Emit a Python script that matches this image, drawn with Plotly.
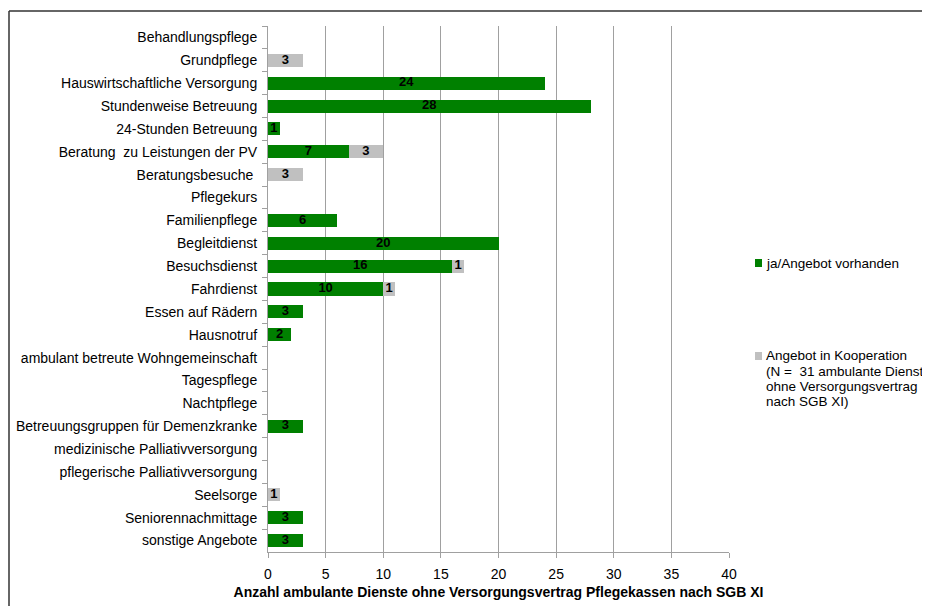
import plotly.graph_objects as go

# -----------------------------------------------------------------------------
# Data
# -----------------------------------------------------------------------------

categories = [
    "Behandlungspflege", "Grundpflege", "Hauswirtschaftliche Versorgung",
    "Stundenweise Betreuung", "24-Stunden Betreuung",
    "Beratung  zu Leistungen der PV", "Beratungsbesuche ", "Pflegekurs",
    "Familienpflege", "Begleitdienst", "Besuchsdienst", "Fahrdienst",
    "Essen auf Rädern", "Hausnotruf", "ambulant betreute Wohngemeinschaft",
    "Tagespflege", "Nachtpflege", "Betreuungsgruppen für Demenzkranke",
    "medizinische Palliativversorgung", "pflegerische Palliativversorgung",
    "Seelsorge", "Seniorennachmittage", "sonstige Angebote",
]
vorhanden = [0, 0, 24, 28, 1, 7, 0, 0, 6, 20, 16, 10, 3, 2, 0, 0, 0, 3, 0, 0, 0, 3, 3]
kooperation = [0, 3, 0, 0, 0, 3, 3, 0, 0, 0, 1, 1, 0, 0, 0, 0, 0, 0, 0, 0, 1, 0, 0]

x_ticks = [0, 5, 10, 15, 20, 25, 30, 35, 40]

name_vorhanden = "ja/Angebot vorhanden"
name_kooperation_lines = ["Angebot in Kooperation", "(N =  31 ambulante Dienst",
                          "ohne Versorgungsvertrag", "nach SGB XI)"]
x_title = "Anzahl ambulante Dienste ohne Versorgungsvertrag Pflegekassen nach SGB XI"

# -----------------------------------------------------------------------------
# Layout helpers (pixel -> paper); the page body adds an 8px margin
# -----------------------------------------------------------------------------

OFF = 8
W, H = 930 - OFF, 606 - OFF
L, R, T, B = 268 - OFF, 729 - OFF, 26 - OFF, 552 - OFF


def px_x(p):
    return (p - OFF - L) / (R - L)


def px_y(p):
    return (B - (p - OFF)) / (B - T)


FONT = "Liberation Sans, Arial, sans-serif"
GREEN = "#008000"
GRAY = "#c0c0c0"

fig = go.Figure()

fig.add_trace(go.Bar(
    y=categories, x=vorhanden, orientation="h", name=name_vorhanden,
    marker=dict(color=GREEN, line=dict(width=0)), showlegend=False,
    hoverinfo="x+y",
))
fig.add_trace(go.Bar(
    y=categories, x=kooperation, orientation="h",
    name=" ".join(name_kooperation_lines),
    marker=dict(color=GRAY, line=dict(width=0)), showlegend=False,
    hoverinfo="x+y",
))

# value labels in the middle of each segment
lab_x, lab_y, lab_t = [], [], []
for c, g, k in zip(categories, vorhanden, kooperation):
    if g:
        lab_x.append(g / 2)
        lab_y.append(c)
        lab_t.append(str(g))
    if k:
        lab_x.append(g + k / 2)
        lab_y.append(c)
        lab_t.append(str(k))

fig.add_trace(go.Scatter(
    x=lab_x, y=lab_y, text=lab_t, mode="text", showlegend=False,
    textfont=dict(family=FONT, size=13, color="black", weight="bold"),
    hoverinfo="skip",
))

# outer frame (only top and left edges visible in the picture)
frame = dict(color="#333333", width=1.5)
fig.add_shape(type="line", xref="paper", yref="paper",
              x0=px_x(9), x1=px_x(940), y0=px_y(11), y1=px_y(11), line=frame)
fig.add_shape(type="line", xref="paper", yref="paper",
              x0=px_x(9), x1=px_x(9), y0=px_y(11), y1=px_y(620), line=frame)

# legend drawn by hand: small squares and text to the right of the plot
legend_font = dict(family=FONT, size=13.5, color="black")
for color, ys, lines in [(GREEN, 263, [name_vorhanden]),
                         (GRAY, 356, name_kooperation_lines)]:
    fig.add_shape(type="rect", xref="paper", yref="paper",
                  x0=px_x(755), x1=px_x(762), y0=px_y(ys - 4), y1=px_y(ys + 4),
                  fillcolor=color, line=dict(width=0))
    for i, line in enumerate(lines):
        fig.add_annotation(xref="paper", yref="paper", x=px_x(764),
                           y=px_y(ys + 15 * i), text=line, showarrow=False,
                           xanchor="left", yanchor="middle", font=legend_font)

fig.update_layout(
    width=W, height=H,
    margin=dict(l=L, r=W - R, t=T, b=H - B, pad=0, autoexpand=False),
    barmode="stack", bargap=0.43,
    plot_bgcolor="white", paper_bgcolor="white",
    font=dict(family=FONT, size=14, color="black"),
    showlegend=False,
)

fig.update_xaxes(
    range=[0, 40], tickvals=x_ticks, ticktext=[str(v) for v in x_ticks],
    showgrid=True, gridcolor="#a0a0a0", gridwidth=1, zeroline=False,
    showline=True, linecolor="#a0a0a0", linewidth=1,
    ticks="outside", ticklen=5, tickcolor="#a0a0a0",
    ticklabelstandoff=4,
    tickfont=dict(family=FONT, size=14, color="black"),
    title=dict(text="<b>" + x_title + "</b>", standoff=6,
               font=dict(family=FONT, size=14, color="black")),
)
fig.update_yaxes(
    range=[len(categories) - 0.5, -0.5], type="category",
    showgrid=False, zeroline=False,
    showline=True, linecolor="#a0a0a0", linewidth=1,
    ticks="outside", tickson="boundaries", ticklen=5, tickcolor="#a0a0a0",
    ticklabelstandoff=7,
    tickfont=dict(family=FONT, size=14, color="black"),
)

fig.write_html("out.html")
